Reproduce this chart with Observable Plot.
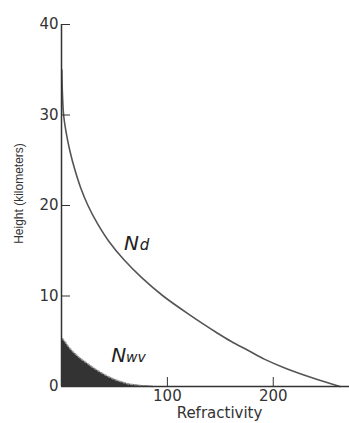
<!DOCTYPE html>
<html>
<head>
<meta charset="utf-8">
<script src="https://cdn.jsdelivr.net/npm/d3@7"></script>
<script src="https://cdn.jsdelivr.net/npm/@observablehq/plot@0.6"></script>
<style>
  html, body { margin: 0; padding: 0; background: #fff; }
  svg { display: block; }
</style>
</head>
<body>
<div id="chart"></div>
<script>
// Dry-air refractivity profile (height in km, N units)
const dryHeight = [0, 1, 2, 3, 4, 5, 6, 8, 10, 12, 14, 16, 18, 20, 22, 24, 26, 28, 30, 32, 35];
const dryN      = [263, 236, 212, 192, 176, 160, 146, 120, 96, 76, 59, 45, 34, 25, 18, 12.5, 8, 4.5, 2, 1, 0.3];

// Water-vapour refractivity profile
const wetHeight = [0, 0.2, 0.5, 1, 1.5, 2, 2.5, 3, 3.5, 4, 4.5, 5, 5.4];
const wetN      = [86, 68, 57, 46, 38, 31, 25, 19, 14, 9.5, 6, 3, 0];

const yTicks = [0, 10, 20, 30, 40];
const xTicks = [100, 200];

const dry = dryHeight.map((h, i) => ({h, n: dryN[i]}));
const wet = wetHeight.map((h, i) => ({h, n: wetN[i]}));

const ink = "#333";

const chart = Plot.plot({
  width: 349,
  height: 423,
  marginLeft: 61,
  marginRight: 0,
  marginTop: 24,
  marginBottom: 37,
  x: {domain: [0, 272]},
  y: {domain: [0, 40]},
  style: {fontFamily: "DejaVu Sans, sans-serif", background: "#fff", color: ink},
  marks: [
    // water vapour contribution, filled
    Plot.areaX(wet, {y: "h", x1: 0, x2: "n", fill: "#333", curve: "monotone-y"}),
    Plot.lineX(wet, {y: "h", x: "n", stroke: "#9a9a9a", strokeWidth: 1.5, strokeDasharray: "2,2", curve: "monotone-y"}),
    // dry component
    Plot.lineX(dry, {y: "h", x: "n", stroke: "#555", strokeWidth: 1.6, curve: "monotone-y"}),
    // axes
    Plot.ruleX([0], {stroke: ink, strokeWidth: 1.5}),
    Plot.ruleY([0], {stroke: ink, strokeWidth: 1.5}),
    Plot.axisY({ticks: yTicks, tickSize: -9, tickPadding: 12, fontSize: 15, label: null, stroke: ink}),
    Plot.axisX({ticks: xTicks, tickSize: -9, tickPadding: 13, fontSize: 15, label: null, stroke: ink}),
    Plot.text(["Height (kilometers)"], {
      frameAnchor: "left", textAnchor: "middle", lineAnchor: "middle", rotate: -90,
      dx: -42, dy: -12, fontSize: 12, fontFamily: "Liberation Sans, Arial, sans-serif", fill: ink
    }),
    Plot.text(["Refractivity"], {
      frameAnchor: "bottom", textAnchor: "middle", lineAnchor: "middle",
      dx: 14, dy: 27, fontSize: 15, fill: ink
    }),
    // curve labels
    Plot.text([{x: 66, y: 15.8}], {x: "x", y: "y", text: () => "N", fontSize: 20, fontStyle: "italic", fill: "#222"}),
    Plot.text([{x: 74, y: 15.6}], {x: "x", y: "y", text: () => "d", fontSize: 15, fontStyle: "italic", textAnchor: "start", fill: "#222"}),
    Plot.text([{x: 54, y: 3.4}], {x: "x", y: "y", text: () => "N", fontSize: 20, fontStyle: "italic", fill: "#222"}),
    Plot.text([{x: 61, y: 3.2}], {x: "x", y: "y", text: () => "wv", fontSize: 14, fontStyle: "italic", textAnchor: "start", fill: "#222"})
  ]
});

document.getElementById("chart").appendChild(chart);
</script>
</body>
</html>
